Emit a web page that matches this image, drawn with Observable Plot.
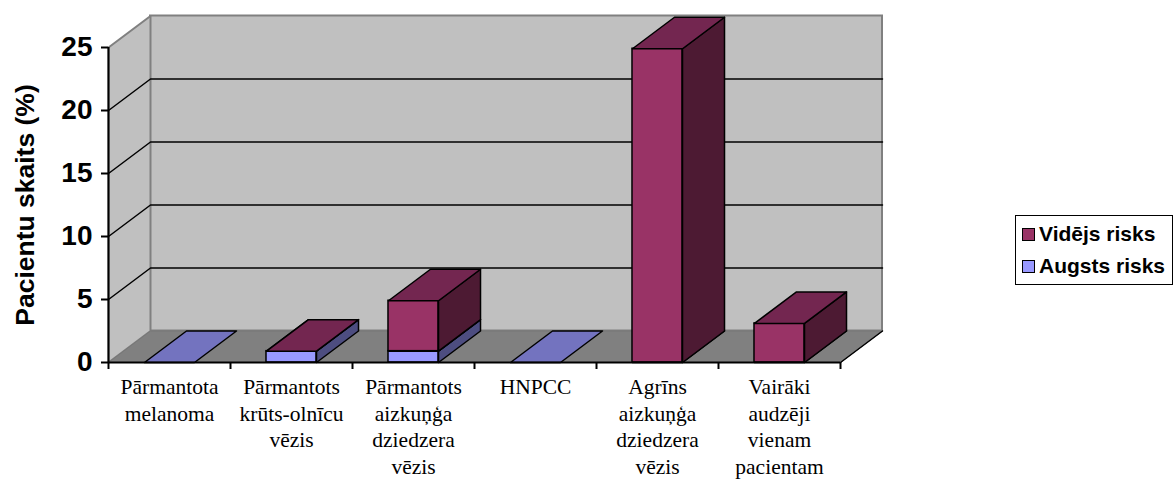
<!DOCTYPE html>
<html>
<head>
<meta charset="utf-8">
<script src="https://cdn.jsdelivr.net/npm/d3@7"></script>
<script src="https://cdn.jsdelivr.net/npm/@observablehq/plot@0.6"></script>
<style>
  body { margin: 0; background: #fff; }
  #wrap { position: relative; width: 1174px; height: 479px; overflow: hidden; }
  #legend {
    position: absolute; left: 1015px; top: 215px; width: 158px; height: 70px;
    box-sizing: border-box; border: 1.5px solid #000; background: #fff;
    font: bold 21px "Liberation Sans", Arial, sans-serif; color: #000;
    padding: 2px 0 0 6px;
  }
  #legend .row { display: flex; align-items: center; height: 32px; white-space: nowrap; }
  #legend .sw { display: inline-block; width: 11px; height: 11px; border: 1.5px solid #000; margin-right: 4px; }
</style>
</head>
<body>
<div id="wrap"></div>
<script>
// ---- data ----
const categories = [
  "Pārmantota\nmelanoma",
  "Pārmantots\nkrūts-olnīcu\nvēzis",
  "Pārmantots\naizkuņģa\ndziedzera\nvēzis",
  "HNPCC",
  "Agrīns\naizkuņģa\ndziedzera\nvēzis",
  "Vairāki\naudzēji\nvienam\npacientam"
];
const augstsRisks = [0, 0.9, 0.9, 0, 0, 0];
const videjsRisks = [null, 0, 4.0, null, 24.9, 3.1];
const seriesNames = ["Vidējs risks", "Augsts risks"];
const yTicks = [0, 5, 10, 15, 20, 25];
const yTitle = "Pacientu skaits (%)";

// ---- layout / style ----
const W = 1174, H = 479, mL = 108, mR = 334, mT = 47, mB = 117;
const nCat = categories.length;
const yMax = 25;
const pxPerX = (W - mL - mR) / nCat;
const pxPerY = (H - mT - mB) / yMax;
const DX = 42 / pxPerX;     // depth offset in data units (x)
const DY = 31.5 / pxPerY;   // depth offset in data units (y)
const halfBar = 0.205;

const colors = {
  aug: { front: "#9999ff", top: "#7373bf", side: "#4d4d80" },
  vid: { front: "#993366", top: "#732650", side: "#4d1a33" }
};

function buildSegments(key) {
  const vals = key === "aug" ? augstsRisks : videjsRisks;
  const segs = [];
  vals.forEach((v, i) => {
    if (v == null) return;
    const base = key === "vid" ? (augstsRisks[i] || 0) : 0;
    segs.push({ id: key + i, x1: i + 0.5 - halfBar, x2: i + 0.5 + halfBar, y1: base, y2: base + v });
  });
  return segs;
}
function poly(id, pts) { return pts.map(([x, y]) => ({ id, x, y })); }

function barMarks(key) {
  const segs = buildSegments(key);
  const c = colors[key];
  const fronts = segs.filter(s => s.y2 > s.y1);
  const tops = segs.flatMap(s => poly(s.id, [[s.x1, s.y2], [s.x2, s.y2], [s.x2 + DX, s.y2 + DY], [s.x1 + DX, s.y2 + DY], [s.x1, s.y2]]));
  const sides = fronts.flatMap(s => poly(s.id, [[s.x2, s.y1], [s.x2, s.y2], [s.x2 + DX, s.y2 + DY], [s.x2 + DX, s.y1 + DY], [s.x2, s.y1]]));
  return [
    Plot.rect(fronts, { x1: "x1", x2: "x2", y1: "y1", y2: "y2", fill: c.front, stroke: "#000", strokeWidth: 1.5 }),
    Plot.line(sides, { x: "x", y: "y", z: "id", fill: c.side, stroke: "#000", strokeWidth: 1.5, curve: "linear" }),
    Plot.line(tops, { x: "x", y: "y", z: "id", fill: c.top, stroke: "#000", strokeWidth: 1.5, curve: "linear" })
  ];
}

const backWall = [{ x1: DX, x2: nCat + DX, y1: DY, y2: yMax + DY }];
const sideWall = poly("side", [[0, 0], [0, yMax], [DX, yMax + DY], [DX, DY], [0, 0]]);
const floor = poly("floor", [[0, 0], [nCat, 0], [nCat + DX, DY], [DX, DY], [0, 0]]);
const floorEdge = poly("edge", [[nCat, 0], [nCat + DX, DY]]);
const grid = yTicks.filter(v => v > 0 && v < yMax).flatMap(v => poly("g" + v, [[0, v], [DX, v + DY], [nCat + DX, v + DY]]));
const labelData = categories.map((c, i) => ({ c, x: i + 0.5, y: 0 }));

const chart = Plot.plot({
  width: W, height: H,
  marginLeft: mL, marginRight: mR, marginTop: mT, marginBottom: mB,
  x: { type: "linear", domain: [0, nCat] },
  y: { type: "linear", domain: [0, yMax] },
  style: { fontFamily: "'Liberation Sans', Arial, sans-serif", background: "#fff", color: "#000", overflow: "visible" },
  marks: [
    Plot.rect(backWall, { x1: "x1", x2: "x2", y1: "y1", y2: "y2", fill: "#c0c0c0", stroke: "#808080", strokeWidth: 2 }),
    Plot.line(sideWall, { x: "x", y: "y", z: "id", fill: "#c0c0c0", stroke: "#808080", strokeWidth: 2, curve: "linear" }),
    Plot.line(floor, { x: "x", y: "y", z: "id", fill: "#808080", stroke: "#777", strokeWidth: 1, curve: "linear" }),
    Plot.line(floorEdge, { x: "x", y: "y", z: "id", stroke: "#000", strokeWidth: 1.5 }),
    Plot.line(grid, { x: "x", y: "y", z: "id", stroke: "#000", strokeWidth: 1.5, curve: "linear" }),
    ...barMarks("aug"),
    ...barMarks("vid"),
    Plot.ruleX([0], { y1: 0, y2: yMax, stroke: "#000", strokeWidth: 2 }),
    Plot.ruleY([0], { x1: 0, x2: nCat, stroke: "#000", strokeWidth: 2 }),
    Plot.axisY(yTicks, { anchor: "left", tickSize: 7, tickPadding: 9, strokeWidth: 2, fontSize: 28, fontWeight: "bold", label: null, tickFormat: d => String(d) }),
    Plot.axisX(d3.range(0, nCat + 1), { anchor: "bottom", tickSize: 7, strokeWidth: 2, tickFormat: () => "", label: null }),
    Plot.text(labelData, { x: "x", y: "y", text: "c", lineAnchor: "top", dy: 13, fontSize: 21.5, lineHeight: 1.23, fontFamily: "'Liberation Serif', 'Times New Roman', serif", fill: "#000" }),
    Plot.text([yTitle], { frameAnchor: "left", textAnchor: "middle", dx: -83, rotate: -90, fontSize: 26.5, fontWeight: "bold", fill: "#000" })
  ]
});

const wrap = document.getElementById("wrap");
wrap.appendChild(chart);

const legend = document.createElement("div");
legend.id = "legend";
const legendColors = [colors.vid.front, colors.aug.front];
seriesNames.forEach((name, k) => {
  const row = document.createElement("div");
  row.className = "row";
  const sw = document.createElement("span");
  sw.className = "sw";
  sw.style.background = legendColors[k];
  row.appendChild(sw);
  row.appendChild(document.createTextNode(name));
  legend.appendChild(row);
});
wrap.appendChild(legend);
</script>
</body>
</html>
